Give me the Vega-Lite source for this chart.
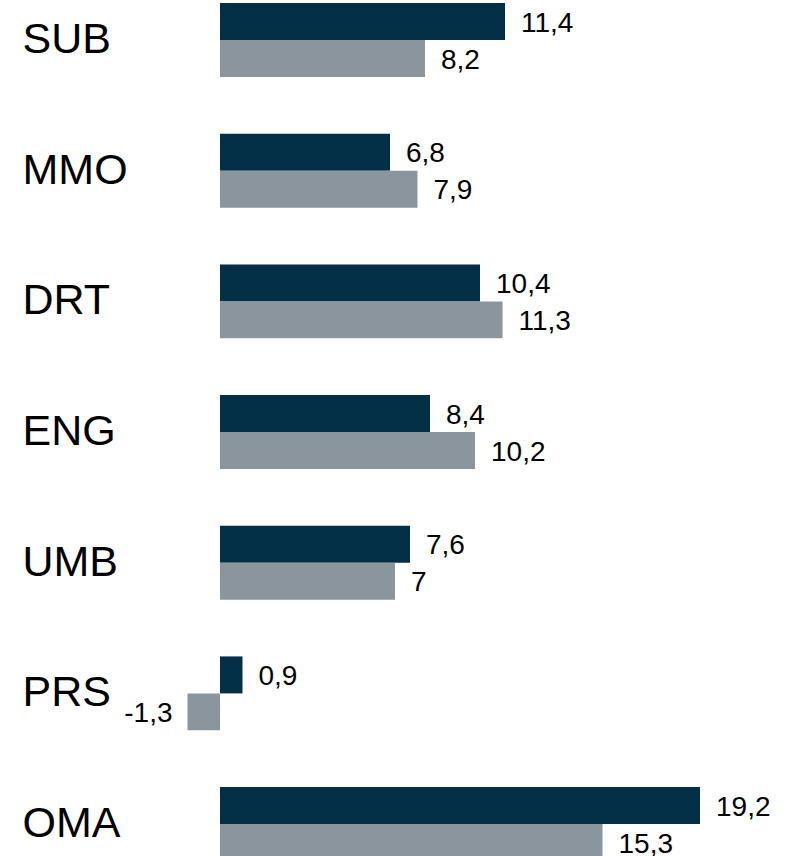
{
  "$schema": "https://vega.github.io/schema/vega-lite/v6.json",
  "width": 787,
  "height": 856,
  "autosize": {"type": "none"},
  "padding": 0,
  "background": "white",
  "config": {
    "view": {"stroke": null},
    "font": "Liberation Sans",
    "locale": {"number": {"decimal": ",", "thousands": ".", "grouping": [3], "currency": ["", " €"], "minus": "-"}}
  },
  "data": {
    "values": [
      {"cat": "SUB", "series": "A", "value": 11.4},
      {"cat": "SUB", "series": "B", "value": 8.2},
      {"cat": "MMO", "series": "A", "value": 6.8},
      {"cat": "MMO", "series": "B", "value": 7.9},
      {"cat": "DRT", "series": "A", "value": 10.4},
      {"cat": "DRT", "series": "B", "value": 11.3},
      {"cat": "ENG", "series": "A", "value": 8.4},
      {"cat": "ENG", "series": "B", "value": 10.2},
      {"cat": "UMB", "series": "A", "value": 7.6},
      {"cat": "UMB", "series": "B", "value": 7},
      {"cat": "PRS", "series": "A", "value": 0.9},
      {"cat": "PRS", "series": "B", "value": -1.3},
      {"cat": "OMA", "series": "A", "value": 19.2},
      {"cat": "OMA", "series": "B", "value": 15.3}
    ]
  },
  "encoding": {
    "y": {
      "field": "cat",
      "type": "nominal",
      "sort": ["SUB", "MMO", "DRT", "ENG", "UMB", "PRS", "OMA"],
      "scale": {"range": [-25.3, 889.4], "paddingInner": 0.434, "paddingOuter": 0.217},
      "axis": {
        "title": null,
        "ticks": false,
        "tickSize": 0,
        "domain": false,
        "grid": false,
        "labelAlign": "left",
        "labelBaseline": "middle",
        "labelPadding": -22,
        "labelFontSize": 43,
        "labelColor": "#000000",
        "labelFont": "Liberation Sans"
      }
    },
    "yOffset": {
      "field": "series",
      "type": "nominal",
      "sort": ["A", "B"],
      "scale": {"paddingInner": 0, "paddingOuter": 0}
    },
    "x": {
      "field": "value",
      "type": "quantitative",
      "scale": {"domain": [-8.8, 22.68], "nice": false, "zero": false},
      "axis": null
    }
  },
  "layer": [
    {
      "mark": {"type": "bar"},
      "encoding": {
        "color": {
          "field": "series",
          "type": "nominal",
          "scale": {"domain": ["A", "B"], "range": ["#033046", "#8a959e"]},
          "legend": null
        }
      }
    },
    {
      "transform": [{"filter": "datum.value >= 0"}],
      "mark": {"type": "text", "align": "left", "baseline": "middle", "dx": 16, "dy": 2, "fontSize": 28, "color": "#000000", "font": "Liberation Sans"},
      "encoding": {"text": {"field": "value", "type": "quantitative", "format": "~r"}}
    },
    {
      "transform": [{"filter": "datum.value < 0"}],
      "mark": {"type": "text", "align": "right", "baseline": "middle", "dx": -15, "dy": 2, "fontSize": 28, "color": "#000000", "font": "Liberation Sans"},
      "encoding": {"text": {"field": "value", "type": "quantitative", "format": "~r"}}
    }
  ]
}
